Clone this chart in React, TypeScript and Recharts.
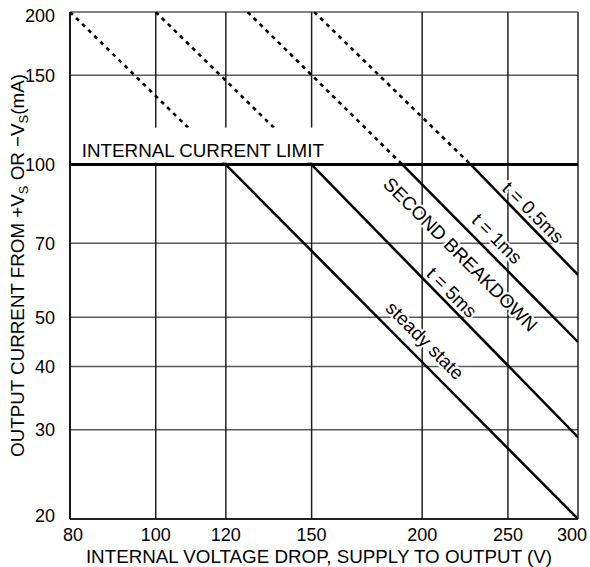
import React from 'react';
import { LineChart, Line, XAxis, YAxis, CartesianGrid, ReferenceLine, ReferenceDot, Label } from 'recharts';

// log-log axes
const xTicks = [80, 100, 120, 150, 200, 250, 300];
const yTicks = [20, 30, 40, 50, 70, 100, 150, 200];
const currentLimit = 100;

// each curve: dotted part above the current limit, solid part below it
const steadyDashed = [{ v: 80, i: 200 }, { v: 120, i: 100 }];
const steadySolid = [{ v: 120, i: 100 }, { v: 300, i: 20 }];
const t5Dashed = [{ v: 100, i: 200 }, { v: 150, i: 100 }];
const t5Solid = [{ v: 150, i: 100 }, { v: 300, i: 29 }];
const t1Dashed = [{ v: 127, i: 200 }, { v: 190, i: 100 }];
const t1Solid = [{ v: 190, i: 100 }, { v: 300, i: 44.7 }];
const t05Dashed = [{ v: 151, i: 200 }, { v: 227, i: 100 }];
const t05Solid = [{ v: 227, i: 100 }, { v: 300, i: 60.6 }];

const solidCurves = [steadySolid, t5Solid, t1Solid, t05Solid];
const dashedCurves = [steadyDashed, t5Dashed, t1Dashed, t05Dashed];

// annotations along the curves (data coords of text centre)
const curveLabels = [
  { text: 't = 0.5ms', v: 267, i: 80.5 },
  { text: 't = 1ms', v: 243, i: 71.5 },
  { text: 'SECOND BREAKDOWN', v: 221, i: 66.5 },
  { text: 't = 5ms', v: 216, i: 56 },
  { text: 'steady state', v: 201.5, i: 45 },
];

const FONT = '"Liberation Sans", Arial, Helvetica, sans-serif';

const XTick = ({ x, y, payload }: any) => {
  const shift = payload.value === 80 ? 3 : payload.value === 300 ? -6 : 0;
  return (
    <text x={x + shift} y={y} dy="0.71em" textAnchor="middle" fontSize={18} fill="#000">
      {payload.value}
    </text>
  );
};

const YTick = ({ x, y, payload }: any) => {
  const shift = payload.value === 200 ? 3.5 : payload.value === 20 ? -3 : 0;
  return (
    <text x={x} y={y + shift} dy="0.355em" textAnchor="end" fontSize={18} fill="#000">
      {payload.value}
    </text>
  );
};

const XTitle = ({ viewBox }: any) => {
  const cx = viewBox.x + viewBox.width / 2 - 5;
  return (
    <text x={cx} y={563} textAnchor="middle" fontSize={18.8} fill="#000">
      INTERNAL VOLTAGE DROP, SUPPLY TO OUTPUT (V)
    </text>
  );
};

const YTitle = ({ viewBox }: any) => {
  const cx = 17;
  const cy = viewBox.y + viewBox.height / 2;
  return (
    <text x={cx} y={cy} dy="0.35em" transform={`rotate(-90 ${cx} ${cy})`} textAnchor="middle" fontSize={18.8} fill="#000">
      OUTPUT CURRENT FROM +V
      <tspan fontSize={13} dy={4}>S</tspan>
      <tspan dy={-4}> OR −V</tspan>
      <tspan fontSize={13} dy={4}>S</tspan>
      <tspan dy={-4}>(mA)</tspan>
    </text>
  );
};

const CurveLabel = ({ cx, cy, text }: any) => (
  <text
    x={cx}
    y={cy}
    dy="0.35em"
    transform={`rotate(45 ${cx} ${cy})`}
    textAnchor="middle"
    fontSize={18.8}
    fill="#000"
    stroke="#fff"
    strokeWidth={4}
    paintOrder="stroke"
  >
    {text}
  </text>
);

const LimitLabel = ({ cx, cy }: any) => (
  <g>
    <rect x={cx - 7} y={cy - 29} width={258} height={35} fill="#fff" />
    <text x={cx} y={cy} textAnchor="start" fontSize={18.8} fill="#000">
      INTERNAL CURRENT LIMIT
    </text>
  </g>
);

export default function App() {
  return (
    <div style={{ position: 'absolute', left: 0, top: 0, fontFamily: FONT, background: '#fff' }}>
      <LineChart width={590} height={567} margin={{ top: 12, right: 12, bottom: 0, left: 0 }}>
        <CartesianGrid vertical={false} stroke="#5a5a5a" strokeWidth={1.5} strokeDasharray="" />
        <CartesianGrid horizontal={false} stroke="#222" strokeWidth={1.5} strokeDasharray="" />
        <XAxis
          dataKey="v"
          type="number"
          scale="log"
          domain={[80, 300]}
          ticks={xTicks}
          allowDataOverflow
          height={48}
          tickSize={0}
          tickMargin={9}
          tick={<XTick />}
          axisLine={{ stroke: '#000', strokeWidth: 1.5 }}
          tickLine={false}
        >
          <Label content={<XTitle />} />
        </XAxis>
        <YAxis
          type="number"
          scale="log"
          domain={[20, 200]}
          ticks={yTicks}
          allowDataOverflow
          width={70}
          tickSize={0}
          tickMargin={15}
          tick={<YTick />}
          axisLine={{ stroke: '#000', strokeWidth: 1.5 }}
          tickLine={false}
        >
          <Label content={<YTitle />} />
        </YAxis>
        {dashedCurves.map((d, k) => (
          <Line
            key={'d' + k}
            data={d}
            dataKey="i"
            type="linear"
            stroke="#000"
            strokeWidth={2.6}
            strokeDasharray="4 4.5"
            dot={false}
            activeDot={false}
            isAnimationActive={false}
          />
        ))}
        {solidCurves.map((d, k) => (
          <Line
            key={'s' + k}
            data={d}
            dataKey="i"
            type="linear"
            stroke="#000"
            strokeWidth={2.5}
            dot={false}
            activeDot={false}
            isAnimationActive={false}
          />
        ))}
        <ReferenceLine y={currentLimit} stroke="#000" strokeWidth={3} />
        <ReferenceDot x={82.5} y={103.7} r={0} shape={(p: any) => <LimitLabel {...p} />} />
        {curveLabels.map((l) => (
          <ReferenceDot
            key={l.text}
            x={l.v}
            y={l.i}
            r={0}
            shape={(p: any) => <CurveLabel {...p} text={l.text} />}
          />
        ))}
      </LineChart>
    </div>
  );
}
